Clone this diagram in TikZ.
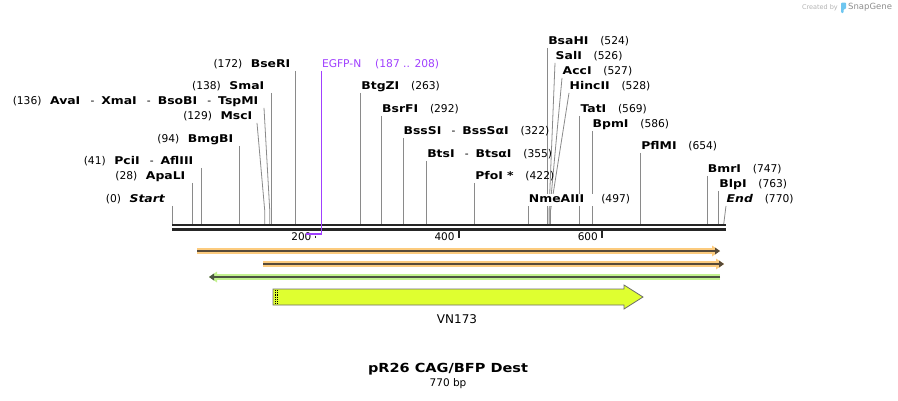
\documentclass[tikz,border=0pt]{standalone}
\usepackage{fontspec}
\setmainfont{DejaVu Sans}[BoldFeatures={FakeStretch=1.16}, BoldItalicFeatures={FakeStretch=1.16}]
\usetikzlibrary{arrows.meta, backgrounds}

\definecolor{cutgray}{HTML}{8A8A8A}
\definecolor{rulerblack}{HTML}{262626}
\definecolor{primerpurple}{HTML}{A040FF}
\definecolor{orangehl}{HTML}{FCCB7E}
\definecolor{greenhl}{HTML}{C3F290}
\definecolor{featdark}{HTML}{574A38}
\definecolor{greendark}{HTML}{4B5540}
\definecolor{vnfill}{HTML}{DFFF30}
\definecolor{vnedge}{HTML}{6B6B6B}
\definecolor{snapblue}{HTML}{6EC6F0}

\newcommand{\labfont}{\fontsize{10.7}{12}\selectfont}
\newcommand{\dashsep}{\hspace{0.95em}-\hspace{0.65em}}
\newcommand{\numgap}{\hspace{1.1em}}
\newcommand{\lnumgap}{\hspace{0.8em}}

\begin{document}
\begin{tikzpicture}[x=1pt, y=-1pt,
    lablL/.style={anchor=east, inner sep=0.5pt, text height=8pt, text depth=2.5pt, font=\labfont},
    lablR/.style={anchor=west, inner sep=0.5pt, text height=8pt, text depth=2.5pt, font=\labfont},
    cutline/.style={draw=cutgray, line width=0.8pt},
    primerline/.style={draw=primerpurple, line width=0.9pt},
    rulerline/.style={draw=rulerblack},
    ticklab/.style={anchor=east, inner sep=0.5pt, font=\fontsize{10.5}{11}\selectfont},
    orangefeat/.style={draw=featdark, line width=1.8pt, shorten <=2pt, shorten >=2pt,
        -{Triangle[length=5pt, width=7pt, line width=0pt]},
        preaction={draw=orangehl, line width=5.5pt, -{Triangle[length=8pt, width=11pt, line width=0pt]}}},
    greenfeat/.style={draw=greendark, line width=1.8pt, shorten <=2pt, shorten >=2pt,
        -{Triangle[length=5pt, width=7pt, line width=0pt]},
        preaction={draw=greenhl, line width=5.5pt, -{Triangle[length=8pt, width=11pt, line width=0pt]}}},
    vnfeat/.style={fill=vnfill, draw=vnedge, line width=0.8pt}]
    \useasboundingbox (0,0) rectangle (898,400);

    % Site positions on the ruler
    \foreach \p in {0,28,41,94,129,136,138,172,187,200,208,263,292,322,355,400,422,497,524,526,527,528,569,586,600,654,747,763,770}
        \coordinate (p\p) at ({172.4+0.716*\p},224);
    \coordinate (knee) at (0,211);

    % Labels left of their line
    \node[lablL] (start) at (166,200) {(0)\lnumgap\textbf{\textit{Start}}};
    \node[lablL] (apali) at (186,177) {(28)\lnumgap\textbf{ApaLI}};
    \node[lablL] (pcii) at (194,162) {(41)\lnumgap\textbf{PciI}\dashsep\textbf{AflIII}};
    \node[lablL] (bmgbi) at (234,140) {(94)\lnumgap\textbf{BmgBI}};
    \node[lablL] (msci) at (253,117) {(129)\lnumgap\textbf{MscI}};
    \node[lablL] (avai) at (259,102) {(136)\lnumgap\textbf{AvaI}\dashsep\textbf{XmaI}\dashsep\textbf{BsoBI}\dashsep\textbf{TspMI}};
    \node[lablL] (smai) at (265,87) {(138)\lnumgap\textbf{SmaI}};
    \node[lablL] (bseri) at (291,65) {(172)\lnumgap\textbf{BseRI}};

    % Labels right of their line
    \node[lablR, text=primerpurple] (egfp) at (p208 |- 0,65) {EGFP-N\hspace{1.3em}(187 .. 208)};
    \node[lablR] (btgzi) at (p263 |- 0,87) {\textbf{BtgZI}\numgap(263)};
    \node[lablR] (bsrfi) at (p292 |- 0,110) {\textbf{BsrFI}\numgap(292)};
    \node[lablR] (bsssi) at (p322 |- 0,132) {\textbf{BssSI}\dashsep\textbf{BssSαI}\numgap(322)};
    \node[lablR] (btsi) at (p355 |- 0,155) {\textbf{BtsI}\dashsep\textbf{BtsαI}\numgap(355)};
    \node[lablR] (pfoi) at (p422 |- 0,177) {\textbf{PfoI *}\numgap(422)};
    \node[lablR, fill=white] (nmeaiii) at (p497 |- 0,200) {\textbf{NmeAIII}\hspace{1.6em}(497)};
    \node[lablR] (bsahi) at (p524 |- 0,42) {\textbf{BsaHI}\numgap(524)};
    \node[lablR] (sali) at (555,57) {\textbf{SalI}\numgap(526)};
    \node[lablR] (acci) at (562,72) {\textbf{AccI}\numgap(527)};
    \node[lablR] (hincii) at (569,87) {\textbf{HincII}\numgap(528)};
    \node[lablR] (tati) at (p569 |- 0,110) {\textbf{TatI}\numgap(569)};
    \node[lablR] (bpmi) at (p586 |- 0,125) {\textbf{BpmI}\numgap(586)};
    \node[lablR] (pflmi) at (p654 |- 0,147) {\textbf{PflMI}\numgap(654)};
    \node[lablR] (bmri) at (p747 |- 0,170) {\textbf{BmrI}\numgap(747)};
    \node[lablR] (blpi) at (p763 |- 0,185) {\textbf{BlpI}\numgap(763)};
    \node[lablR] (endlab) at (726,200) {\textbf{\textit{End}}\numgap(770)};

    % Draw the cut lines behind the labels
    \begin{scope}[on background layer]
        \foreach \n/\p in {start/0, apali/28, pcii/41, bmgbi/94, smai/138, bseri/172, btgzi/263, bsrfi/292, bsssi/322, btsi/355, pfoi/422, nmeaiii/497, bsahi/524, tati/569, bpmi/586, pflmi/654, bmri/747, blpi/763}
            \draw[cutline] (p\p |- \n.south) -- (p\p);
        \draw[cutline] ([xshift=4pt]msci.south east) -- (p129 |- knee) -- (p129);
        \draw[cutline] ([xshift=5pt]avai.south east) -- (p136 |- knee) -- (p136);
        \draw[cutline] (sali.south west) -- (p526 |- knee) -- (p526);
        \draw[cutline] (acci.south west) -- (p527 |- knee) -- (p527);
        \draw[cutline] (hincii.south west) -- (p528 |- knee) -- (p528);
        \draw[cutline] (endlab.south west) -- (p770);
    \end{scope}

    % Ruler
    \draw[rulerline, line width=2.6pt] (172,225) -- (726,225);
    \draw[rulerline, line width=2.2pt] (172,229.5) -- (726,229.5);
    \draw[rulerline, line width=1pt] (p200 |- 0,235.5) -- (p200 |- 0,237.5);
    \draw[rulerline, line width=2pt] (p400 |- 0,229) -- (p400 |- 0,237.5);
    \draw[rulerline, line width=2pt] (p600 |- 0,229) -- (p600 |- 0,237.5);
    \node[ticklab] (t200) at ([xshift=-3.5pt]p200 |- 0,237) {200};
    \node[ticklab] (t400) at ([xshift=-3.5pt]p400 |- 0,237) {400};
    \node[ticklab] (t600) at ([xshift=-3.5pt]p600 |- 0,237) {600};

    % Primer EGFP-N
    \draw[primerline] (p208 |- egfp.south) -- (p208 |- 0,234);
    \draw[primerline, line width=2pt] (p187 |- 0,234) -- ([xshift=0.45pt]p208 |- 0,234);

    % Features
    \draw[orangefeat] (195,251) -- (722,251);
    \draw[orangefeat] (261,264) -- (726,264);
    \draw[greenfeat] (722,277) -- (207,277);
    \draw[vnfeat] (273,289) -- (624,289) -- (624,285) -- (643,297) -- (624,309) -- (624,305) -- (273,305) -- cycle;
    \draw[densely dotted, line width=0.8pt] (275.3,290) -- (275.3,304);
    \draw[densely dotted, line width=0.8pt] (277.3,290) -- (277.3,304);
    \node[font=\fontsize{12}{13}\selectfont] (vnlab) at (457,319) {VN173};

    % Title
    \node[font=\bfseries\fontsize{12.5}{14}\selectfont] (title) at (448,369) {pR26 CAG/BFP Dest};
    \node[font=\fontsize{10.5}{11}\selectfont] (size) at (448,384) {770 bp};

    % Watermark
    \node[anchor=east, inner sep=0pt, text=black!30, font=\fontsize{6.5}{7}\selectfont] (made) at (838,7.5) {Created by};
    \fill[snapblue, rounded corners=1pt] (841,2.5) -- (846,2.5) -- (846,9) -- (843.5,9) -- (843.5,13) -- (841,13) -- cycle;
    \node[anchor=west, inner sep=0pt, text=black!45, font=\fontsize{8.5}{9}\selectfont] (snapgene) at (848,7.5) {SnapGene};
\end{tikzpicture}
\end{document}
